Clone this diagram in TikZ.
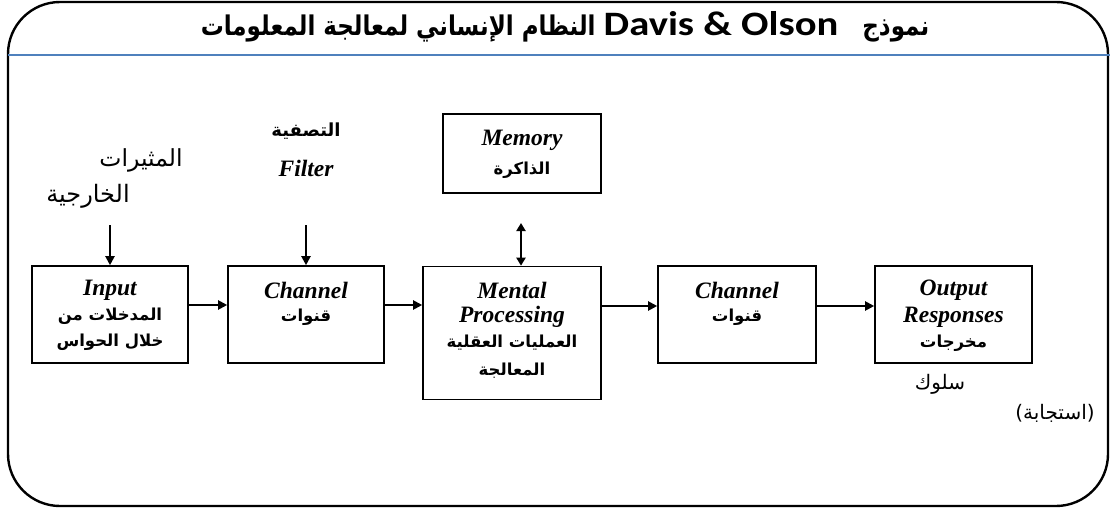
\documentclass[tikz,border=0pt]{standalone}
\usepackage{fontspec}
\usepackage{graphicx}
\setmainfont{Liberation Serif}
\newfontfamily\arabicfont[Script=Arabic]{DejaVu Sans}
\newfontfamily\arabicbold[Script=Arabic]{DejaVu Sans Bold}
\newfontfamily\titlelatin[FakeStretch=1.4]{Carlito Bold}
\TeXXeTstate=1
\usetikzlibrary{arrows.meta}
\definecolor{titleblue}{RGB}{79,129,189}
\tikzset{
  block/.style={draw=black, line width=1.6pt, inner sep=0pt},
  flow/.style={line width=2pt, -{Triangle[length=9pt,width=9pt]}},
  lat/.style={font=\fontsize{23.5}{25}\selectfont\bfseries\itshape},
  arin/.style={font=\fontsize{16.5}{18}\selectfont},
}
\newcommand{\ar}[1]{{\arabicfont\beginR #1\endR}}
\newcommand{\arb}[1]{{\arabicbold\beginR #1\endR}}
\begin{document}
\begin{tikzpicture}[x=1pt,y=-1pt]
\useasboundingbox (0,0) rectangle (1110,508);
% frame
\draw[line width=2.4pt, rounded corners=52pt] (8,2) rectangle (1108,506);
\draw[titleblue, line width=1.6pt] (8,55) -- (1110,55);
\node (title) at (565,27) {\scalebox{1}[1.18]{\fontsize{23}{26}\selectfont\arabicbold\beginR نموذج \ \ \beginL{\titlelatin\fontsize{29}{30}\selectfont Davis \& Olson}\endL\ النظام الإنساني لمعالجة المعلومات\endR}};
% boxes
\node[block, minimum width=156pt, minimum height=97pt] (input) at (110,314.5) {};
\node[block, minimum width=156pt, minimum height=97pt] (ch1) at (306,314.5) {};
\node[block, minimum width=178pt, minimum height=133pt] (mental) at (512,333) {};
\node[block, minimum width=158pt, minimum height=79pt] (memory) at (522,153.5) {};
\node[block, minimum width=158pt, minimum height=97pt] (ch2) at (737,314.5) {};
\node[block, minimum width=157pt, minimum height=97pt] (out) at (953.5,314.5) {};
% texts in boxes
\node[lat] (tin1) at (110,290) {Input};
\node[arin] (tin2) at (110,316) {\arb{المدخلات من}};
\node[arin] (tin3) at (110,342) {\arb{خلال الحواس}};
\node[lat] (tc1) at (306,290) {Channel};
\node[arin] (tc2) at (306,317) {\arb{قنوات}};
\node[lat] (tm1) at (512,290) {Mental};
\node[lat] (tm2) at (512,317) {Processing};
\node[arin] (tm3) at (512,343) {\arb{العمليات العقلية}};
\node[arin] (tm4) at (512,371) {\arb{المعالجة}};
\node[lat] (tme1) at (522,140) {Memory};
\node[arin] (tme2) at (522,170) {\arb{الذاكرة}};
\node[lat] (tc3) at (737,290) {Channel};
\node[arin] (tc4) at (737,317) {\arb{قنوات}};
\node[lat] (to1) at (953.5,290) {Output};
\node[lat] (to2) at (953.5,317) {Responses};
\node[arin] (to3) at (953.5,343) {\arb{مخرجات}};
% outside labels
\node (stim1) at (141,160) {\fontsize{23.5}{25}\selectfont\ar{المثيرات}};
\node (stim2) at (88,196) {\fontsize{24}{26}\selectfont\ar{الخارجية}};
\node (filt1) at (306,131) {\fontsize{18}{20}\selectfont\arb{التصفية}};
\node[lat] (filt2) at (306,168) {Filter};
\node (beh) at (940,384) {\fontsize{20}{22}\selectfont\ar{سلوك}};
\node (resp) at (1055,413) {\fontsize{20}{22}\selectfont\ar{(استجابة)}};
% arrow coordinates
\coordinate (a1) at (110,225);
\coordinate (a2) at (306,225);
\coordinate (a3) at (521,223);
% connectors
\draw[flow] (a1) -- (input.north);
\draw[flow] (a2) -- (ch1.north);
\draw[line width=2pt, {Triangle[length=8pt,width=9pt]}-{Triangle[length=8pt,width=9pt]}] (a3) -- (a3 |- mental.north);
\draw[flow] (input.east |- 0,305) -- (ch1.west |- 0,305);
\draw[flow] (ch1.east |- 0,305) -- (mental.west |- 0,305);
\draw[flow] (mental.east |- 0,306) -- (ch2.west |- 0,306);
\draw[flow] (ch2.east |- 0,306) -- (out.west |- 0,306);
\end{tikzpicture}
\end{document}
